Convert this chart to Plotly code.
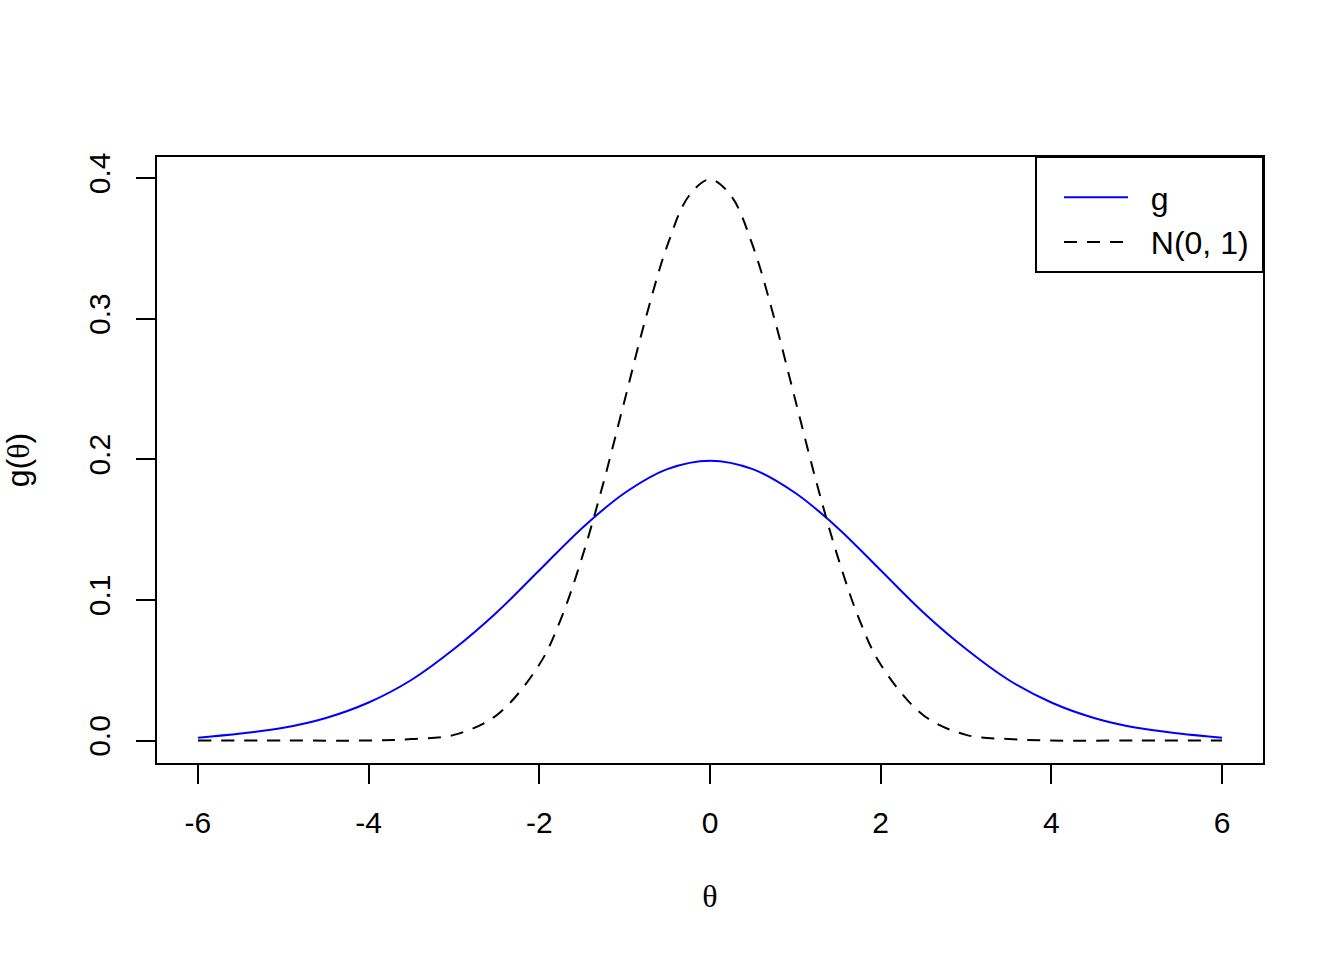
import plotly.graph_objects as go

# Values
theta_g = [-6, -5.5, -5, -4.5, -4, -3.5, -3, -2.5, -2, -1.5, -1, -0.5, 0,
           0.5, 1, 1.5, 2, 2.5, 3, 3.5, 4, 4.5, 5, 5.5, 6]
g_vals = [0.002, 0.005, 0.009, 0.016, 0.027, 0.043, 0.065, 0.091, 0.121, 0.151, 0.176, 0.193, 0.199,
          0.193, 0.176, 0.151, 0.121, 0.091, 0.065, 0.043, 0.027, 0.016, 0.009, 0.005, 0.002]

theta_n = [-6, -5, -4, -3.5, -3, -2.5, -2, -1.75, -1.5, -1.25, -1, -0.75, -0.5, -0.25, 0,
           0.25, 0.5, 0.75, 1, 1.25, 1.5, 1.75, 2, 2.5, 3, 3.5, 4, 5, 6]
n_vals = [0.0, 0.0, 0.0, 0.001, 0.004, 0.018, 0.054, 0.086, 0.130, 0.183, 0.242, 0.301, 0.352, 0.387, 0.399,
          0.387, 0.352, 0.301, 0.242, 0.183, 0.130, 0.086, 0.054, 0.018, 0.004, 0.001, 0.0, 0.0, 0.0]

x_ticks = [-6, -4, -2, 0, 2, 4, 6]
y_ticks = [0.0, 0.1, 0.2, 0.3, 0.4]
y_tick_labels = ["0.0", "0.1", "0.2", "0.3", "0.4"]
series_names = ["g", "N(0, 1)"]

W, H = 1344, 960
ml, mr, mt, mb = 157, 81, 157, 197
pw, ph = W - ml - mr, H - mt - mb

SANS = "Liberation Sans, Arial, Helvetica, sans-serif"
SERIF = "Liberation Serif, Times New Roman, serif"
FS_TICK = 30
FS = 32

fig = go.Figure()
fig.add_trace(go.Scatter(x=theta_g, y=g_vals, mode="lines", name="&nbsp;&nbsp;" + series_names[0],
                         line=dict(color="#0000ff", width=2, shape="spline")))
fig.add_trace(go.Scatter(x=theta_n, y=n_vals, mode="lines", name="&nbsp;&nbsp;" + series_names[1],
                         line=dict(color="black", width=2, dash="13px,10px", shape="spline")))

axis_common = dict(showgrid=False, zeroline=False, showline=True, linecolor="black",
                   linewidth=2, mirror=True, ticks="outside", ticklen=19, tickwidth=2,
                   tickcolor="black", tickfont=dict(family=SANS, size=FS_TICK, color="black"))

fig.update_xaxes(range=[-6.48, 6.48], tickvals=x_ticks, ticktext=[str(v) for v in x_ticks],
                 title=dict(text="θ", font=dict(family=SERIF, size=FS, color="black"), standoff=47),
                 ticklabelstandoff=13, **axis_common)
fig.update_yaxes(range=[-0.016, 0.4149], tickvals=y_ticks, ticktext=y_tick_labels, tickangle=-90,
                 title=dict(text="g(<span style='font-family:Liberation Serif'>θ</span>)",
                            font=dict(family=SANS, size=FS, color="black"), standoff=44),
                 ticklabelstandoff=14, **axis_common)

# legend frame
bx0 = (1036 - ml) / pw
by0 = (H - mb - 272) / ph
fig.add_shape(type="rect", xref="paper", yref="paper", x0=bx0, x1=1, y0=by0, y1=1,
              line=dict(color="black", width=2), fillcolor="rgba(0,0,0,0)")

fig.update_layout(
    width=W, height=H,
    margin=dict(l=ml, r=mr, t=mt, b=mb, autoexpand=False),
    plot_bgcolor="white", paper_bgcolor="white",
    font=dict(family=SANS, size=FS, color="black"),
    showlegend=True,
    legend=dict(x=(1059 - ml) / pw, y=1 - (170 - mt) / ph, xanchor="left", yanchor="top",
                bgcolor="rgba(0,0,0,0)", borderwidth=0, itemwidth=64,
                font=dict(family=SANS, size=FS, color="black"), tracegroupgap=0),
)

fig.write_html("out.html", config={"displayModeBar": False},
               post_script="document.body.style.margin='0px';")
